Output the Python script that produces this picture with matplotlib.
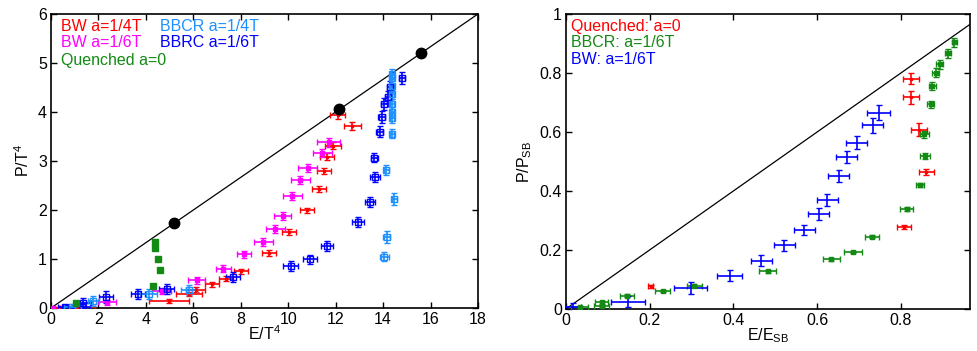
import numpy as np
import matplotlib
matplotlib.use('Agg')
import matplotlib.pyplot as plt
from matplotlib.ticker import FormatStrFormatter

plt.rcParams['font.family'] = ['Liberation Sans', 'DejaVu Sans']
plt.rcParams['mathtext.default'] = 'regular'
plt.rcParams['font.size'] = 11

# ---- left panel: P/T^4 vs E/T^4 ----
bw4_e = [0.2, 1.12, 4.97, 5.82, 6.1, 6.78, 7.37, 8.0, 9.18, 10.04, 10.78, 11.3, 11.5, 11.65, 11.89, 12.08, 12.7]
bw4_p = [0.01, 0.01, 0.14, 0.28, 0.37, 0.48, 0.6, 0.75, 1.12, 1.55, 1.99, 2.43, 2.8, 3.09, 3.31, 3.94, 3.72]
bw4_de = [0.3, 0.74, 0.85, 0.53, 0.4, 0.3, 0.3, 0.3, 0.3, 0.3, 0.3, 0.3, 0.3, 0.3, 0.35, 0.3, 0.35]
bw4_dp = [0.02, 0.02, 0.04, 0.04, 0.05, 0.05, 0.05, 0.05, 0.06, 0.06, 0.06, 0.06, 0.06, 0.07, 0.07, 0.08, 0.08]

bw6_e = [0.1, 2.36, 4.66, 6.14, 7.27, 8.15, 8.95, 9.45, 9.77, 10.18, 10.5, 10.83, 11.44, 11.7]
bw6_p = [0.01, 0.12, 0.35, 0.57, 0.8, 1.1, 1.35, 1.62, 1.88, 2.28, 2.62, 2.85, 3.16, 3.38]
bw6_de = [0.25, 0.39, 0.42, 0.35, 0.3, 0.3, 0.4, 0.4, 0.35, 0.4, 0.4, 0.4, 0.4, 0.5]
bw6_dp = [0.02, 0.05, 0.06, 0.07, 0.07, 0.07, 0.08, 0.08, 0.08, 0.08, 0.08, 0.08, 0.08, 0.09]

bbrc_e = [0.59, 1.3, 1.37, 2.33, 3.66, 4.87, 7.68, 10.1, 10.92, 11.65, 12.95, 13.45, 13.66, 13.63,
          13.86, 13.94, 14.05, 14.22, 14.3, 14.79]
bbrc_p = [0.02, 0.03, 0.1, 0.23, 0.29, 0.39, 0.63, 0.86, 0.99, 1.26, 1.75, 2.17, 2.68, 3.07,
          3.6, 3.9, 4.16, 4.3, 4.52, 4.7]
bbrc_de = [0.28, 0.35, 0.3, 0.3, 0.3, 0.3, 0.3, 0.3, 0.3, 0.25, 0.25, 0.2, 0.2, 0.15,
           0.15, 0.15, 0.15, 0.15, 0.15, 0.12]
bbrc_dp = [0.05, 0.07, 0.1, 0.12, 0.1, 0.1, 0.1, 0.1, 0.1, 0.1, 0.1, 0.1, 0.1, 0.1,
           0.12, 0.12, 0.12, 0.12, 0.12, 0.12]

bbcr_e = [0.9, 1.79, 4.12, 5.82, 14.05, 14.15, 14.48, 14.14, 14.39, 14.39, 14.39, 14.36, 14.36, 14.36, 14.36, 14.36]
bbcr_p = [0.03, 0.15, 0.28, 0.37, 1.05, 1.45, 2.22, 2.82, 3.56, 3.87, 4.0, 4.17, 4.36, 4.53, 4.7, 4.78]
bbcr_de = [0.35, 0.25, 0.35, 0.35, 0.18, 0.15, 0.1, 0.1, 0.08, 0.08, 0.08, 0.08, 0.08, 0.08, 0.08, 0.08]
bbcr_dp = [0.05, 0.1, 0.1, 0.1, 0.1, 0.12, 0.12, 0.1, 0.1, 0.1, 0.1, 0.1, 0.1, 0.1, 0.1, 0.1]

quen_e = [1.06, 4.29, 4.59, 4.52, 4.4, 4.38]
quen_p = [0.1, 0.44, 0.77, 1.01, 1.22, 1.35]

sb_e = [5.2, 12.15, 15.6]
sb_p = [1.74, 4.07, 5.2]

# ---- right panel: P/P_SB vs E/E_SB ----
q_x = [0.202, 0.807, 0.861, 0.843, 0.824, 0.824]
q_y = [0.076, 0.277, 0.465, 0.607, 0.718, 0.781]
q_dx = [0.005, 0.017, 0.017, 0.02, 0.02, 0.02]
q_dy = [0.004, 0.006, 0.01, 0.022, 0.022, 0.018]

bbcr6_x = [0.033, 0.085, 0.085, 0.146, 0.231, 0.306, 0.482, 0.634, 0.686, 0.731, 0.814,
           0.845, 0.858, 0.856, 0.871, 0.875, 0.883, 0.893, 0.913, 0.928]
bbcr6_y = [0.006, 0.01, 0.023, 0.045, 0.061, 0.079, 0.127, 0.168, 0.193, 0.244, 0.338,
           0.42, 0.519, 0.592, 0.694, 0.756, 0.801, 0.829, 0.867, 0.904]
bbcr6_dx = [0.02, 0.018, 0.015, 0.016, 0.018, 0.018, 0.02, 0.021, 0.021, 0.017, 0.015,
            0.01, 0.012, 0.01, 0.008, 0.009, 0.008, 0.008, 0.007, 0.006]
bbcr6_dy = [0.004, 0.004, 0.005, 0.005, 0.004, 0.004, 0.004, 0.004, 0.004, 0.005, 0.006,
            0.008, 0.01, 0.012, 0.012, 0.015, 0.015, 0.016, 0.016, 0.016]

bw6r_x = [0.017, 0.148, 0.298, 0.391, 0.467, 0.521, 0.569, 0.604, 0.624, 0.652, 0.671, 0.694, 0.733, 0.747]
bw6r_y = [0.008, 0.025, 0.072, 0.113, 0.164, 0.215, 0.268, 0.322, 0.369, 0.452, 0.515, 0.564, 0.623, 0.665]
bw6r_dx = [0.02, 0.04, 0.04, 0.03, 0.025, 0.025, 0.025, 0.025, 0.025, 0.025, 0.025, 0.025, 0.025, 0.028]
bw6r_dy = [0.012, 0.02, 0.02, 0.02, 0.02, 0.02, 0.018, 0.02, 0.02, 0.02, 0.02, 0.022, 0.025, 0.025]

C_RED = '#ff0000'
C_MAG = '#ff00ff'
C_LBLUE = '#1e90ff'
C_BLUE = '#0000ff'
C_GREEN = '#138a13'


def eb(ax, x, y, dx, dy, color, marker='none', ms=3, mfc=None):
    ax.errorbar(x, y, xerr=dx, yerr=dy, fmt=marker, color=color, ms=ms,
                mfc=mfc if mfc else color, mec=color, mew=1.0, elinewidth=1.2,
                capsize=2, capthick=1.2, zorder=3)


def style_axes(ax):
    ax.tick_params(direction='in', top=True, right=True, length=4, width=1,
                   labelsize=11.5, pad=3)
    for s in ax.spines.values():
        s.set_linewidth(1.2)


def legend_text(ax, x, y, label, color):
    ax.text(x, y, label, color=color, transform=ax.transAxes, va='baseline', fontsize=11.5)


fig = plt.figure(figsize=(9.77, 3.51), dpi=100)
ax1 = fig.add_axes([0.0522, 0.1225, 0.437, 0.8376])
ax2 = fig.add_axes([0.5793, 0.120, 0.4135, 0.840])

# left panel
e_line = np.array([0, 18])
ax1.plot(e_line, e_line / 3.0, color='black', lw=0.9, zorder=2)
eb(ax1, bw4_e, bw4_p, bw4_de, bw4_dp, C_RED, marker='s', ms=1.5)
eb(ax1, bw6_e, bw6_p, bw6_de, bw6_dp, C_MAG, marker='s', ms=3)
eb(ax1, bbrc_e, bbrc_p, bbrc_de, bbrc_dp, C_BLUE, marker='s', ms=5, mfc='none')
eb(ax1, bbcr_e, bbcr_p, bbcr_de, bbcr_dp, C_LBLUE, marker='s', ms=4.5, mfc='none')
ax1.plot(quen_e, quen_p, 's', color=C_GREEN, ms=5, zorder=4)
ax1.plot(sb_e, sb_p, 'o', color='black', ms=7.5, zorder=5)

ax1.set_xlim(0, 18)
ax1.set_ylim(0, 6)
ax1.set_xticks(np.arange(0, 19, 2))
ax1.set_yticks(np.arange(0, 7, 1))
ax1.set_xlabel('E/T$^4$', fontsize=11.5, labelpad=-2)
ax1.set_ylabel('P/T$^4$', fontsize=11.5, labelpad=4)
style_axes(ax1)

legend_text(ax1, 0.023, 0.943, 'BW a=1/4T', C_RED)
legend_text(ax1, 0.255, 0.943, 'BBCR a=1/4T', C_LBLUE)
legend_text(ax1, 0.023, 0.887, 'BW a=1/6T', C_MAG)
legend_text(ax1, 0.255, 0.887, 'BBRC a=1/6T', C_BLUE)
legend_text(ax1, 0.023, 0.828, 'Quenched a=0', C_GREEN)

# right panel
r_line = np.array([0, 1])
ax2.plot(r_line, r_line, color='black', lw=0.9, zorder=2)
eb(ax2, q_x, q_y, q_dx, q_dy, C_RED, marker='s', ms=1.5)
eb(ax2, bbcr6_x, bbcr6_y, bbcr6_dx, bbcr6_dy, C_GREEN, marker='s', ms=2.5)
eb(ax2, bw6r_x, bw6r_y, bw6r_dx, bw6r_dy, C_BLUE, marker='none')

ax2.set_xlim(0, 0.965)
ax2.set_ylim(0, 1)
ax2.set_xticks([0, 0.2, 0.4, 0.6, 0.8])
ax2.set_yticks([0, 0.2, 0.4, 0.6, 0.8, 1.0])
ax2.xaxis.set_major_formatter(FormatStrFormatter('%g'))
ax2.yaxis.set_major_formatter(FormatStrFormatter('%g'))
ax2.set_xlabel('E/E$_{SB}$', fontsize=11.5, labelpad=-1)
ax2.set_ylabel('P/P$_{SB}$', fontsize=11.5, labelpad=4)
style_axes(ax2)

legend_text(ax2, 0.012, 0.944, 'Quenched: a=0', C_RED)
legend_text(ax2, 0.012, 0.887, 'BBCR: a=1/6T', C_GREEN)
legend_text(ax2, 0.012, 0.831, 'BW: a=1/6T', C_BLUE)

fig.savefig('out.png', dpi=100)
